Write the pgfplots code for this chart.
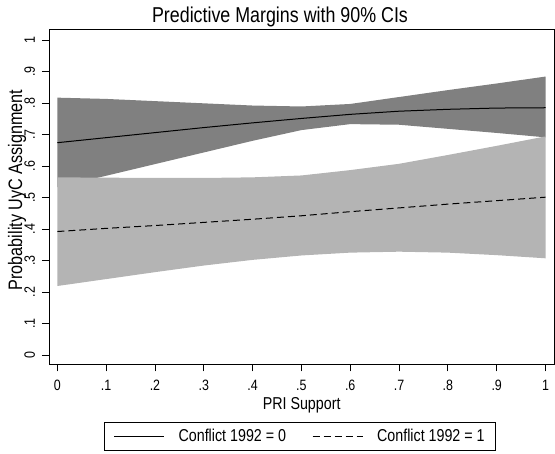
\documentclass[border=0pt]{standalone}
\usepackage{fontspec}
\setmainfont{Liberation Sans}[FakeStretch=0.83]
\usepackage{pgfplots}
\pgfplotsset{compat=1.18}
\usepackage{pgfplotstable}
\usepgfplotslibrary{fillbetween}
\definecolor{darkband}{RGB}{128,128,128}
\definecolor{lightband}{RGB}{180,180,180}

\pgfplotstableread{
x    lo0   hi0   m0    lo1   hi1   m1
0.0  0.533 0.817 0.674 0.219 0.564 0.392
0.1  0.569 0.813 0.690 0.241 0.563 0.402
0.2  0.606 0.806 0.706 0.263 0.562 0.411
0.3  0.643 0.799 0.722 0.284 0.562 0.421
0.4  0.680 0.792 0.737 0.302 0.564 0.431
0.5  0.714 0.789 0.751 0.316 0.570 0.442
0.6  0.733 0.797 0.764 0.325 0.587 0.455
0.7  0.731 0.819 0.774 0.328 0.607 0.467
0.8  0.718 0.841 0.780 0.325 0.635 0.479
0.9  0.705 0.862 0.784 0.317 0.664 0.490
1.0  0.691 0.884 0.785 0.307 0.694 0.501
}\data

\begin{document}
\begin{tikzpicture}
\begin{axis}[
  at={(0pt,0pt)}, anchor=south west,
  scale only axis, width=505.3pt, height=335.3pt,
  xmin=-0.017, xmax=1.018, ymin=-0.0295, ymax=1.035,
  axis line style={line width=0.9pt, black},
  tick align=outside, major tick length=7pt,
  tick style={black, line width=0.8pt},
  xtick pos=bottom, ytick pos=left,
  xtick={0,0.1,0.2,0.3,0.4,0.5,0.6,0.7,0.8,0.9,1},
  xticklabels={0,.1,.2,.3,.4,.5,.6,.7,.8,.9,1},
  ytick={0,0.1,0.2,0.3,0.4,0.5,0.6,0.7,0.8,0.9,1},
  yticklabels={0,.1,.2,.3,.4,.5,.6,.7,.8,.9,1},
  tick label style={font=\fontsize{15}{18}\selectfont},
  xticklabel style={anchor=base, inner sep=0pt},
  xticklabel shift=19.4pt,
  yticklabel style={rotate=90, anchor=base, inner sep=0pt},
  yticklabel shift=7pt,
  xlabel={PRI Support},
  ylabel={Probability UyC Assignment},
  every axis x label/.style={at={(axis description cs:0.5,-0.1342)}, anchor=base, font=\fontsize{17.2}{20}\selectfont},
  every axis y label/.style={at={(axis description cs:-0.0534,0.52)}, rotate=90, anchor=base, font=\fontsize{19.5}{22}\selectfont},
  legend style={at={(axis description cs:0.497,-0.1712)}, anchor=north, draw=black, line width=0.8pt,
    font=\fontsize{17.2}{20}\selectfont, inner xsep=9pt, inner ysep=5pt,
    /tikz/every odd column/.append style={column sep=12pt},
    /tikz/every even column/.append style={column sep=24pt}},
  legend columns=2,
  legend cell align=left,
  legend image code/.code={\draw[#1] (0pt,0pt) -- (50pt,0pt);},
]
\addplot[name path=hi0, draw=none, forget plot] table[x=x,y=hi0]{\data};
\addplot[name path=lo0, draw=none, forget plot] table[x=x,y=lo0]{\data};
\addplot[fill=darkband, draw=none, forget plot] fill between[of=hi0 and lo0];
\addplot[name path=hi1, draw=none, forget plot] table[x=x,y=hi1]{\data};
\addplot[name path=lo1, draw=none, forget plot] table[x=x,y=lo1]{\data};
\addplot[fill=lightband, draw=none, forget plot] fill between[of=hi1 and lo1];
\addplot[black, line width=1pt] table[x=x,y=m0]{\data};
\addlegendentry{Conflict 1992 = 0}
\addplot[black, line width=1pt, dash pattern=on 7pt off 4pt] table[x=x,y=m1]{\data};
\addlegendentry{Conflict 1992 = 1}
\end{axis}
\node[anchor=base, font=\fontsize{21.5}{25}\selectfont] at (231pt,341.6pt) {Predictive Margins with 90\% CIs};
\pgfresetboundingbox
\path[use as bounding box] (-49pt,-89.7pt) rectangle (506pt,364.3pt);
\end{tikzpicture}
\end{document}
